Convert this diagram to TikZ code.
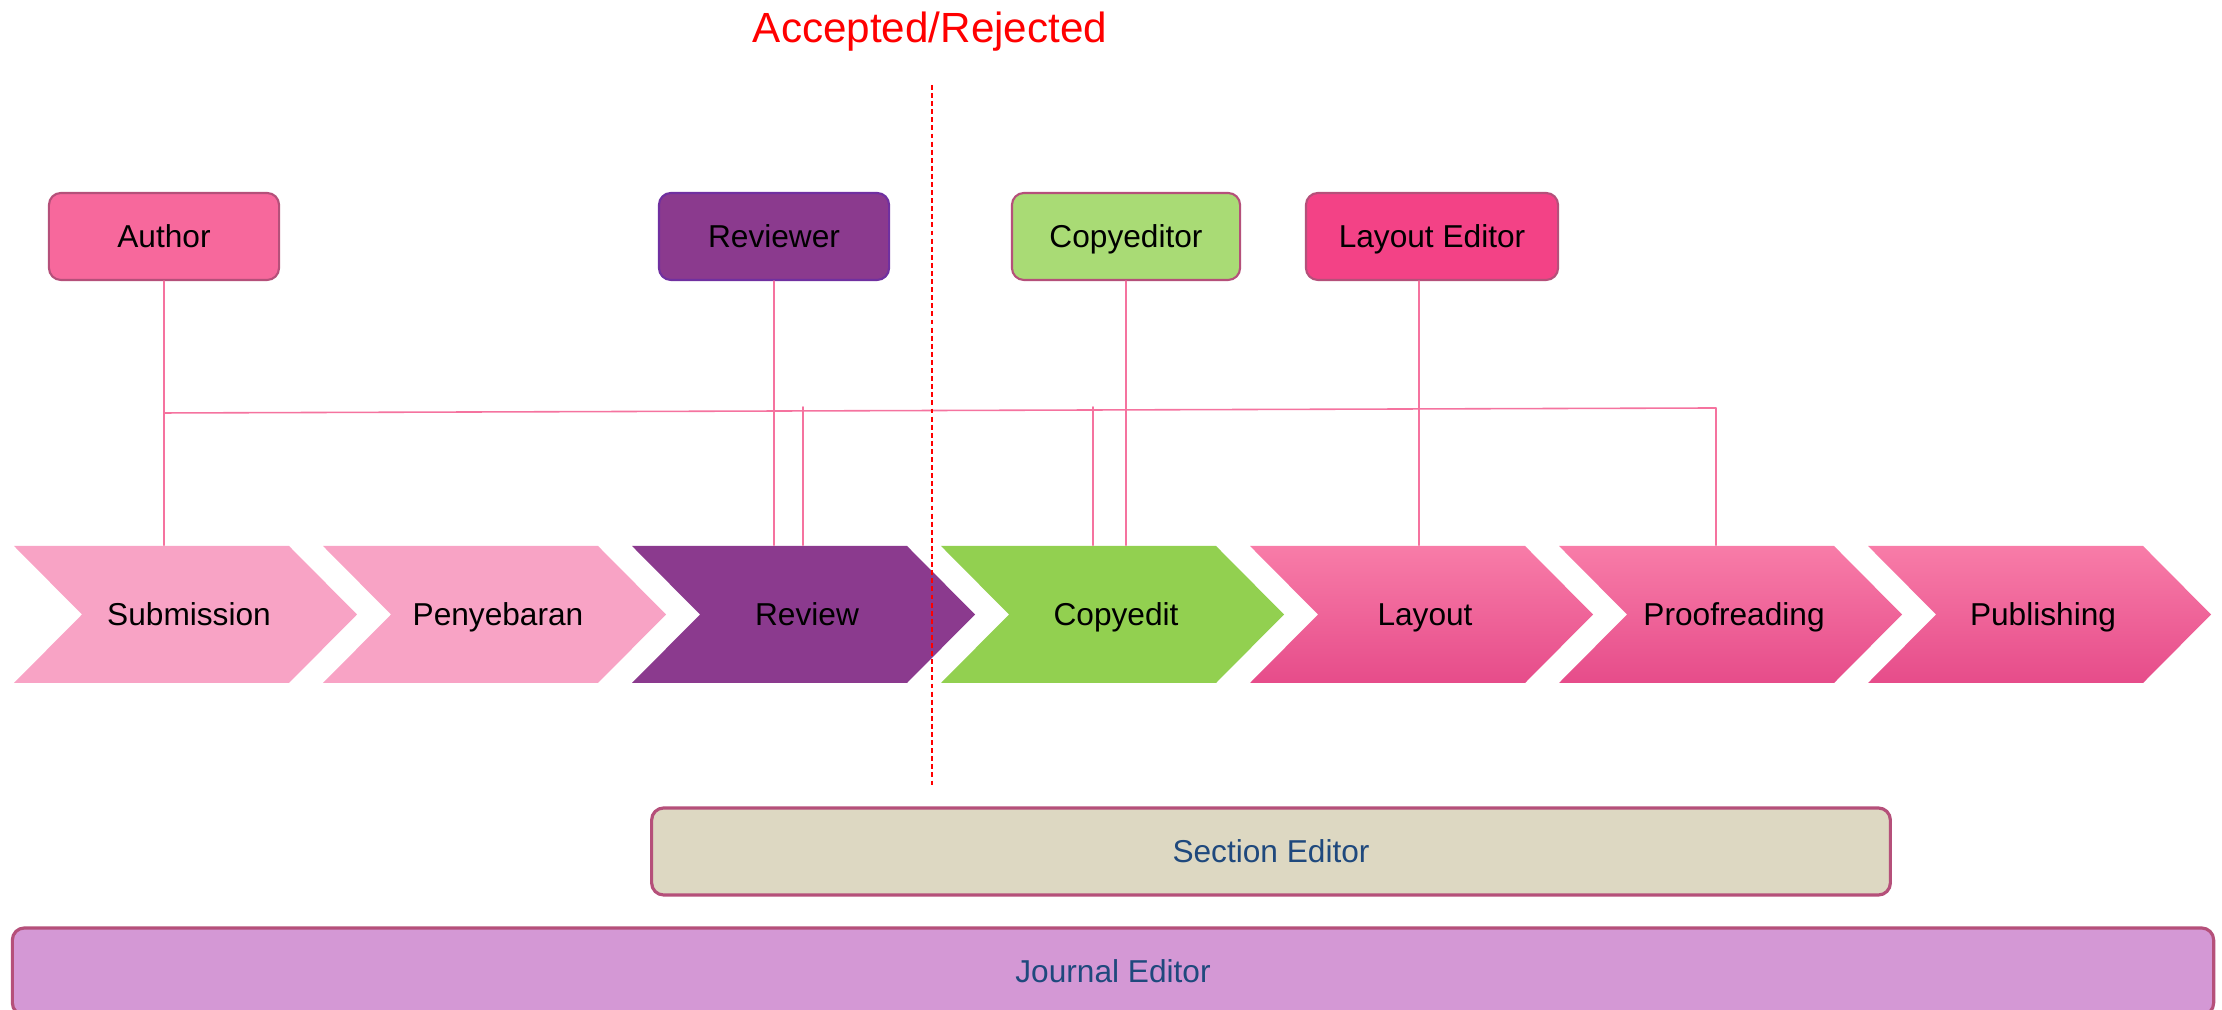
\documentclass[tikz,border=0pt]{standalone}
\usepackage{fontspec}
\setmainfont{Liberation Sans}
\definecolor{pinklight}{HTML}{F8A3C5}
\definecolor{purplerev}{HTML}{8B3A8E}
\definecolor{greencop}{HTML}{92D050}
\definecolor{pinktop}{HTML}{F87CA8}
\definecolor{pinkmid}{HTML}{FA6399}
\definecolor{pinkbot}{HTML}{E64C8A}
\definecolor{authorfill}{HTML}{F7689C}
\definecolor{copyfill}{HTML}{A9DB75}
\definecolor{layfill}{HTML}{F34286}
\definecolor{edge}{HTML}{B5507A}
\definecolor{reviewedge}{HTML}{7030A0}
\definecolor{sectfill}{HTML}{DDD8C2}
\definecolor{journfill}{HTML}{D498D5}
\definecolor{editortext}{HTML}{1F497D}
\definecolor{linkpink}{HTML}{F5739F}
\begin{document}
\begin{tikzpicture}[x=0.01cm,y=0.01cm,line join=round,line cap=round]
				\tikzset{every node/.style={font=\fontsize{9}{11}\selectfont},
					chevpink/.style={fill=pinklight},
					chevpurple/.style={fill=purplerev},
					chevgreen/.style={fill=greencop},
					chevgrad/.style={top color=pinktop,middle color=pinkmid,bottom color=pinkbot},
					label9/.style={text height=8.45pt,text depth=2pt},
					chevtext/.style={label9,minimum height=1.37cm,inner sep=0pt},
					rolebox/.style={label9,draw=edge,line width=0.6pt,rounded corners=0.12cm,minimum height=0.87cm,inner sep=0pt},
					editorbox/.style={label9,draw=edge,line width=0.9pt,rounded corners=0.12cm,minimum height=0.87cm,inner sep=0pt,text=editortext},
					link/.style={draw=linkpink,line width=0.45pt}}
				\useasboundingbox (0,0) rectangle (2222,1010);
				% process chevrons
				\foreach \i/\name/\txt/\col [evaluate=\i as \x using 14+309*\i] in
					{0/sub/Submission/chevpink,1/pen/Penyebaran/chevpink,2/rev/Review/chevpurple,
					 3/cop/Copyedit/chevgreen,4/lay/Layout/chevgrad,5/pro/Proofreading/chevgrad,
					 6/pub/Publishing/chevgrad}
				{
					\path[\col] (\x,464) -- ++(275,0) -- ++(68,-68.5) -- ++(-68,-68.5) -- ++(-275,0) -- ++(68,68.5) -- cycle;
					\node[chevtext] (\name) at (\x+175,395.5) {\txt};
				}
				% roles
				\node[rolebox,fill=authorfill,minimum width=2.30cm] (author) at (164,773.5) {Author};
				\node[rolebox,fill=purplerev,draw=reviewedge,minimum width=2.30cm] (reviewer) at (774,773.5) {Reviewer};
				\node[rolebox,fill=copyfill,minimum width=2.28cm] (copyeditor) at (1126,773.5) {Copyeditor};
				\node[rolebox,fill=layfill,minimum width=2.52cm] (layouted) at (1432,773.5) {Layout Editor};
				\node[editorbox,fill=sectfill,minimum width=12.38cm] (section) at (1271,158.5) {Section Editor};
				\node[editorbox,fill=journfill,minimum width=22.00cm] (journal) at (1113,38.5) {Journal Editor};
				\node[red,font=\fontsize{12}{14}\selectfont,anchor=base] (accept) at (930,967) {Accepted/Rejected};
				% connectors
				\coordinate (aj) at (164,597);
				\coordinate (pj) at (1716,602);
				\coordinate (rj) at (803,603);
				\coordinate (cj) at (1093,603);
				\coordinate (lj) at ([xshift=-0.13cm]layouted.south);
				\draw[link] (author.south) -- (author.south |- sub.north);
				\draw[link] (aj) -- (pj) -- (pj |- pro.north);
				\draw[link] (rj) -- (rj |- rev.north);
				\draw[link] (cj) -- (cj |- cop.north);
				\draw[link] (reviewer.south) -- (reviewer.south |- rev.north);
				\draw[link] (copyeditor.south) -- (copyeditor.south |- cop.north);
				\draw[link] (lj) -- (lj |- lay.north);
				% accepted / rejected split
				\coordinate (dtop) at (932,925);
				\coordinate (dbot) at (932,222);
				\draw[red,line width=0.45pt,line cap=butt,dash pattern=on 1.4pt off 0.9pt] (dtop) -- (dbot);
			\end{tikzpicture}
\end{document}
